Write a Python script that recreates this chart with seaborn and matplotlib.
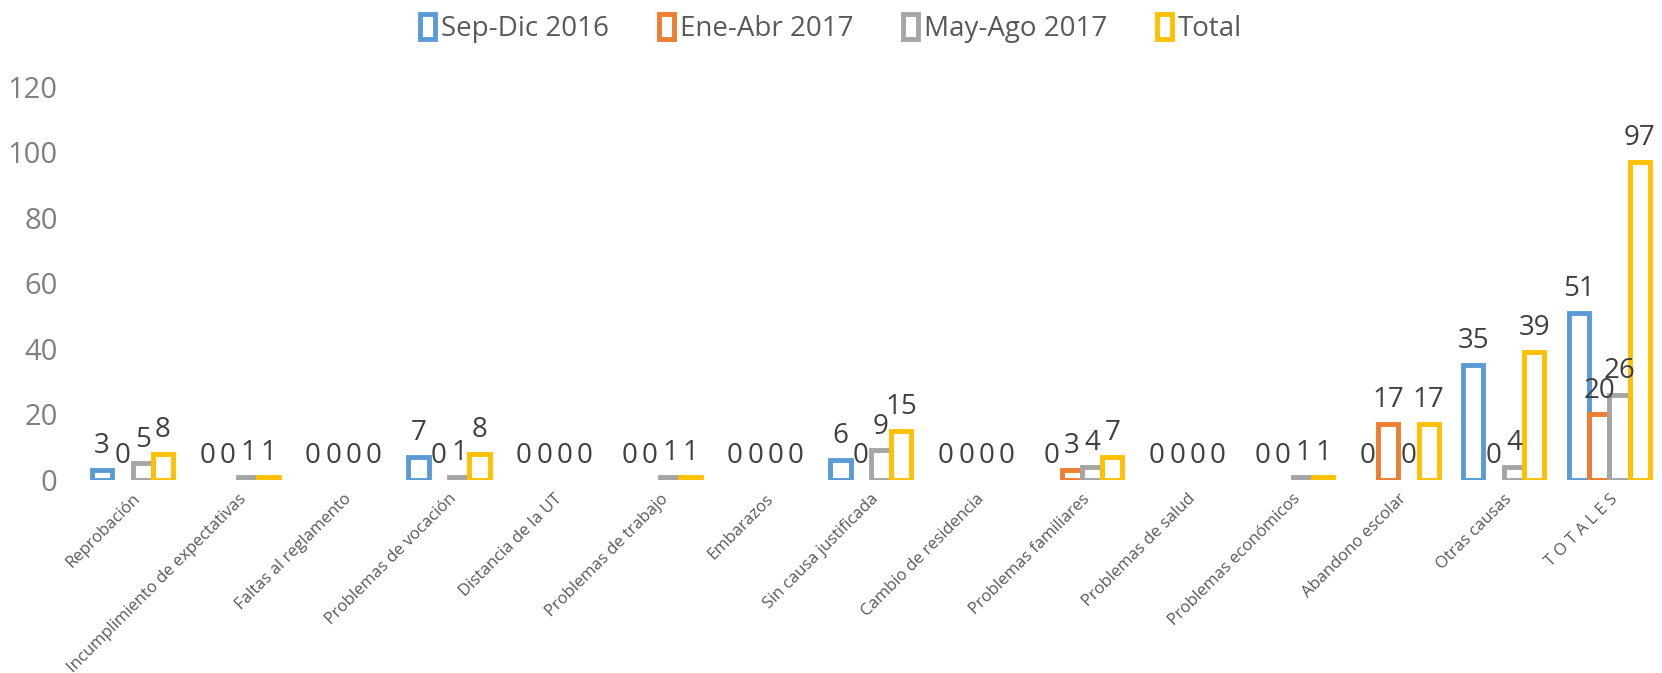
import pandas as pd
import matplotlib.pyplot as plt
import seaborn as sns
from matplotlib.patches import Patch

# Causes of student dropout, by period
CAUSAS = [
    "Reprobación", "Incumplimiento de expectativas", "Faltas al reglamento",
    "Problemas de vocación", "Distancia de la UT", "Problemas de trabajo",
    "Embarazos", "Sin causa justificada", "Cambio de residencia",
    "Problemas familiares", "Problemas de salud", "Problemas económicos",
    "Abandono escolar", "Otras causas", "T O T A L E S",
]
PERIODOS = ["Sep-Dic 2016", "Ene-Abr 2017", "May-Ago 2017", "Total"]
sep_dic_2016 = [3, 0, 0, 7, 0, 0, 0, 6, 0, 0, 0, 0, 0, 35, 51]
ene_abr_2017 = [0, 0, 0, 0, 0, 0, 0, 0, 0, 3, 0, 0, 17, 0, 20]
may_ago_2017 = [5, 1, 0, 1, 0, 1, 0, 9, 0, 4, 0, 1, 0, 4, 26]
total = [8, 1, 0, 8, 0, 1, 0, 15, 0, 7, 0, 1, 17, 39, 97]
COLORES = ["#5B9BD5", "#ED7D31", "#A5A5A5", "#FFC000"]

series = [sep_dic_2016, ene_abr_2017, may_ago_2017, total]
rows = []
for periodo, valores in zip(PERIODOS, series):
    for causa, v in zip(CAUSAS, valores):
        rows.append({"causa": causa, "periodo": periodo, "valor": v})
df = pd.DataFrame(rows)

sns.set_theme(style="white")
plt.rcParams["font.family"] = ["Open Sans", "DejaVu Sans"]

fig = plt.figure(figsize=(16.62, 6.73), dpi=100)
ax = fig.add_axes([0.048, 0.287, 0.952, 0.584])

sns.barplot(
    data=df, x="causa", y="valor", hue="periodo",
    order=CAUSAS, hue_order=PERIODOS, palette=COLORES,
    fill=False, linewidth=3.5, width=0.77, gap=0,
    legend=False, ax=ax,
)

# hide outlines of empty bars, Excel doesn't draw them
for p in ax.patches:
    if p.get_height() == 0:
        p.set_linewidth(0)

for c in ax.containers:
    ax.bar_label(c, padding=7, fontsize=20, color="#404040")

ax.set_ylim(0, 120)
ax.set_yticks(range(0, 121, 20))
ax.set_xlim(-0.5, len(CAUSAS) - 0.5)
ax.set_xlabel("")
ax.set_ylabel("")
sns.despine(ax=ax, left=True, bottom=True)
ax.tick_params(axis="y", length=0, labelsize=21, labelcolor="#808080", pad=16)
ax.tick_params(axis="x", length=0, labelsize=12, labelcolor="#595959", pad=8)
plt.setp(ax.get_xticklabels(), rotation=45, ha="right", rotation_mode="anchor")

handles = [Patch(facecolor="white", edgecolor=col, linewidth=3.5) for col in COLORES]
fig.legend(
    handles, PERIODOS, loc="center", bbox_to_anchor=(0.5, 0.958), ncol=4,
    frameon=False, fontsize=20, labelcolor="#595959",
    handlelength=0.55, handleheight=1.0, handletextpad=0.2, columnspacing=1.8,
)

fig.savefig("out.png", dpi=100)
